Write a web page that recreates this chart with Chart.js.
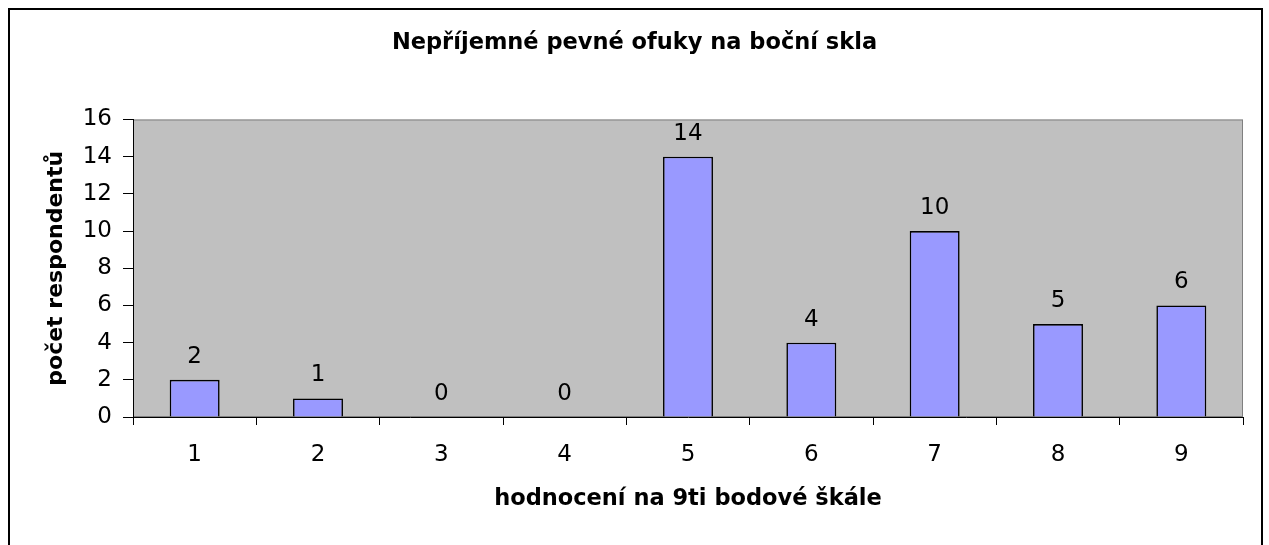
<!DOCTYPE html>
<html>
<head>
<meta charset="utf-8">
<script src="https://cdn.jsdelivr.net/npm/chart.js@4.4.1/dist/chart.umd.min.js"></script>
<style>
  html, body { margin: 0; padding: 0; background: #ffffff; }
  canvas { display: block; }
</style>
</head>
<body>
<canvas id="c" width="1269" height="545"></canvas>
<script>
// ---- data ----
const categories = ['1', '2', '3', '4', '5', '6', '7', '8', '9'];
const counts = [2, 1, 0, 0, 14, 4, 10, 5, 6];
const yMin = 0;
const yMax = 16;
const yStep = 2;
const chartTitle = 'Nepříjemné pevné ofuky na boční skla';
const xTitle = 'hodnocení na 9ti bodové škále';
const yTitle = 'počet respondentů';

Chart.defaults.font.family = "'DejaVu Sans', 'Liberation Sans', Arial, sans-serif";
Chart.defaults.color = '#000000';

const frameAndPlot = {
  id: 'frameAndPlot',
  beforeDraw(chart) {
    const ctx = chart.ctx;
    const a = chart.chartArea;
    ctx.save();
    ctx.fillStyle = '#ffffff';
    ctx.fillRect(0, 0, chart.width, chart.height);
    // outer frame
    ctx.strokeStyle = '#000000';
    ctx.lineWidth = 2;
    ctx.strokeRect(9, 9, 1253, 600);
    // plot area
    ctx.fillStyle = '#c0c0c0';
    ctx.fillRect(a.left, a.top, a.right - a.left, a.bottom - a.top);
    ctx.strokeStyle = '#808080';
    ctx.lineWidth = 1;
    ctx.strokeRect(a.left + 0.5, a.top + 0.5, a.right - a.left - 1, a.bottom - a.top - 1);
    ctx.restore();
  }
};

const valueLabels = {
  id: 'valueLabels',
  afterDatasetsDraw(chart) {
    const ctx = chart.ctx;
    const meta = chart.getDatasetMeta(0);
    ctx.save();
    ctx.font = "23px 'DejaVu Sans', sans-serif";
    ctx.fillStyle = '#000000';
    ctx.textAlign = 'center';
    ctx.textBaseline = 'middle';
    meta.data.forEach((bar, i) => {
      ctx.fillText(String(counts[i]), bar.x, bar.y - 23);
    });
    ctx.restore();
  }
};

new Chart(document.getElementById('c'), {
  type: 'bar',
  data: {
    labels: categories,
    datasets: [{
      data: counts,
      backgroundColor: '#9999ff',
      borderColor: '#000000',
      borderWidth: 1.6,
      barPercentage: 0.405,
      categoryPercentage: 1.0
    }]
  },
  options: {
    responsive: false,
    animation: false,
    devicePixelRatio: 1,
    layout: { padding: { left: 26, right: 26, top: 0, bottom: 0 } },
    plugins: {
      legend: { display: false },
      tooltip: { enabled: false },
      title: {
        display: true,
        text: chartTitle,
        color: '#000000',
        font: { size: 22.5, weight: 'bold' },
        padding: { top: 30, bottom: 62.5 }
      }
    },
    scales: {
      x: {
        type: 'category',
        offset: true,
        grid: { offset: true, drawOnChartArea: false, drawTicks: true, tickLength: 8, color: '#000000', lineWidth: 1 },
        border: { display: true, color: '#000000', width: 1 },
        ticks: { color: '#000000', font: { size: 23 }, padding: 16, maxRotation: 0, autoSkip: false },
        title: { display: true, text: xTitle, color: '#000000', font: { size: 22.5, weight: 'bold' }, padding: { top: 0, bottom: 32 } },
        afterFit(s) { s.height = 128; }
      },
      y: {
        min: yMin,
        max: yMax,
        grid: { drawOnChartArea: false, drawTicks: true, tickLength: 10, color: '#000000', lineWidth: 1 },
        border: { display: true, color: '#000000', width: 1 },
        ticks: { stepSize: yStep, color: '#000000', font: { size: 23 }, padding: 11 },
        title: { display: true, text: yTitle, color: '#000000', font: { size: 22, weight: 'bold' }, padding: { top: 17, bottom: 0 } },
        afterFit(s) { s.width = 107; }
      }
    }
  },
  plugins: [frameAndPlot, valueLabels]
});
</script>
</body>
</html>
